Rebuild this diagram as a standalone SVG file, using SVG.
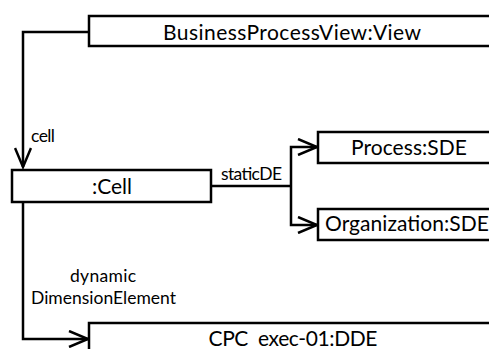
<svg xmlns="http://www.w3.org/2000/svg" width="489" height="349" viewBox="0 0 489 349">
<style>
.box{fill:#fff;stroke:#000;stroke-width:2.5}
.t{font-family:Lato,"Open Sans","Liberation Sans",sans-serif;font-size:21px;fill:#000;text-anchor:middle}
.l{font-family:Lato,"Open Sans","Liberation Sans",sans-serif;font-size:17.5px;fill:#000}
.c{fill:none;stroke:#000;stroke-width:2.5}
</style>
<defs>
<marker id="arr" viewBox="0 0 22 18" refX="20" refY="9" markerWidth="22" markerHeight="18" markerUnits="userSpaceOnUse" orient="auto">
<path d="M1,1 L20,9 L1,17" fill="none" stroke="#000" stroke-width="2.5"/>
</marker>
</defs>
<rect width="489" height="349" fill="#fff"/>
<g id="connectors">
<path class="c" d="M89,32 H23 V167" marker-end="url(#arr)"/>
<path class="c" d="M211,186 H291"/>
<path class="c" d="M291,186 V147 H317" marker-end="url(#arr)"/>
<path class="c" d="M291,186 V225 H317" marker-end="url(#arr)"/>
<path class="c" d="M23,202 V339 H88" marker-end="url(#arr)"/>
<text class="l" x="31" y="142" textLength="24">cell</text>
<text class="l" x="221" y="180" textLength="61">staticDE</text>
<text class="l" x="70" y="282" textLength="66">dynamic</text>
<text class="l" x="31" y="304" textLength="145">DimensionElement</text>
</g>
<g id="bpv">
<rect class="box" x="89" y="16" width="410" height="30"/>
<text class="t" x="292" y="40" textLength="258">BusinessProcessView:View</text>
</g>
<g id="cell">
<rect class="box" x="12" y="170" width="199" height="32"/>
<text class="t" x="112" y="194" textLength="40">:Cell</text>
</g>
<g id="process">
<rect class="box" x="318" y="132" width="180" height="31"/>
<text class="t" x="409" y="155" textLength="116">Process:SDE</text>
</g>
<g id="organization">
<rect class="box" x="318" y="209" width="180" height="31"/>
<text class="t" x="407" y="231" textLength="164">Organization:SDE</text>
</g>
<g id="cpc">
<rect class="box" x="89" y="323" width="410" height="40"/>
<text class="t" x="293" y="346" xml:space="preserve" textLength="169">CPC  exec-01:DDE</text>
</g>
</svg>
